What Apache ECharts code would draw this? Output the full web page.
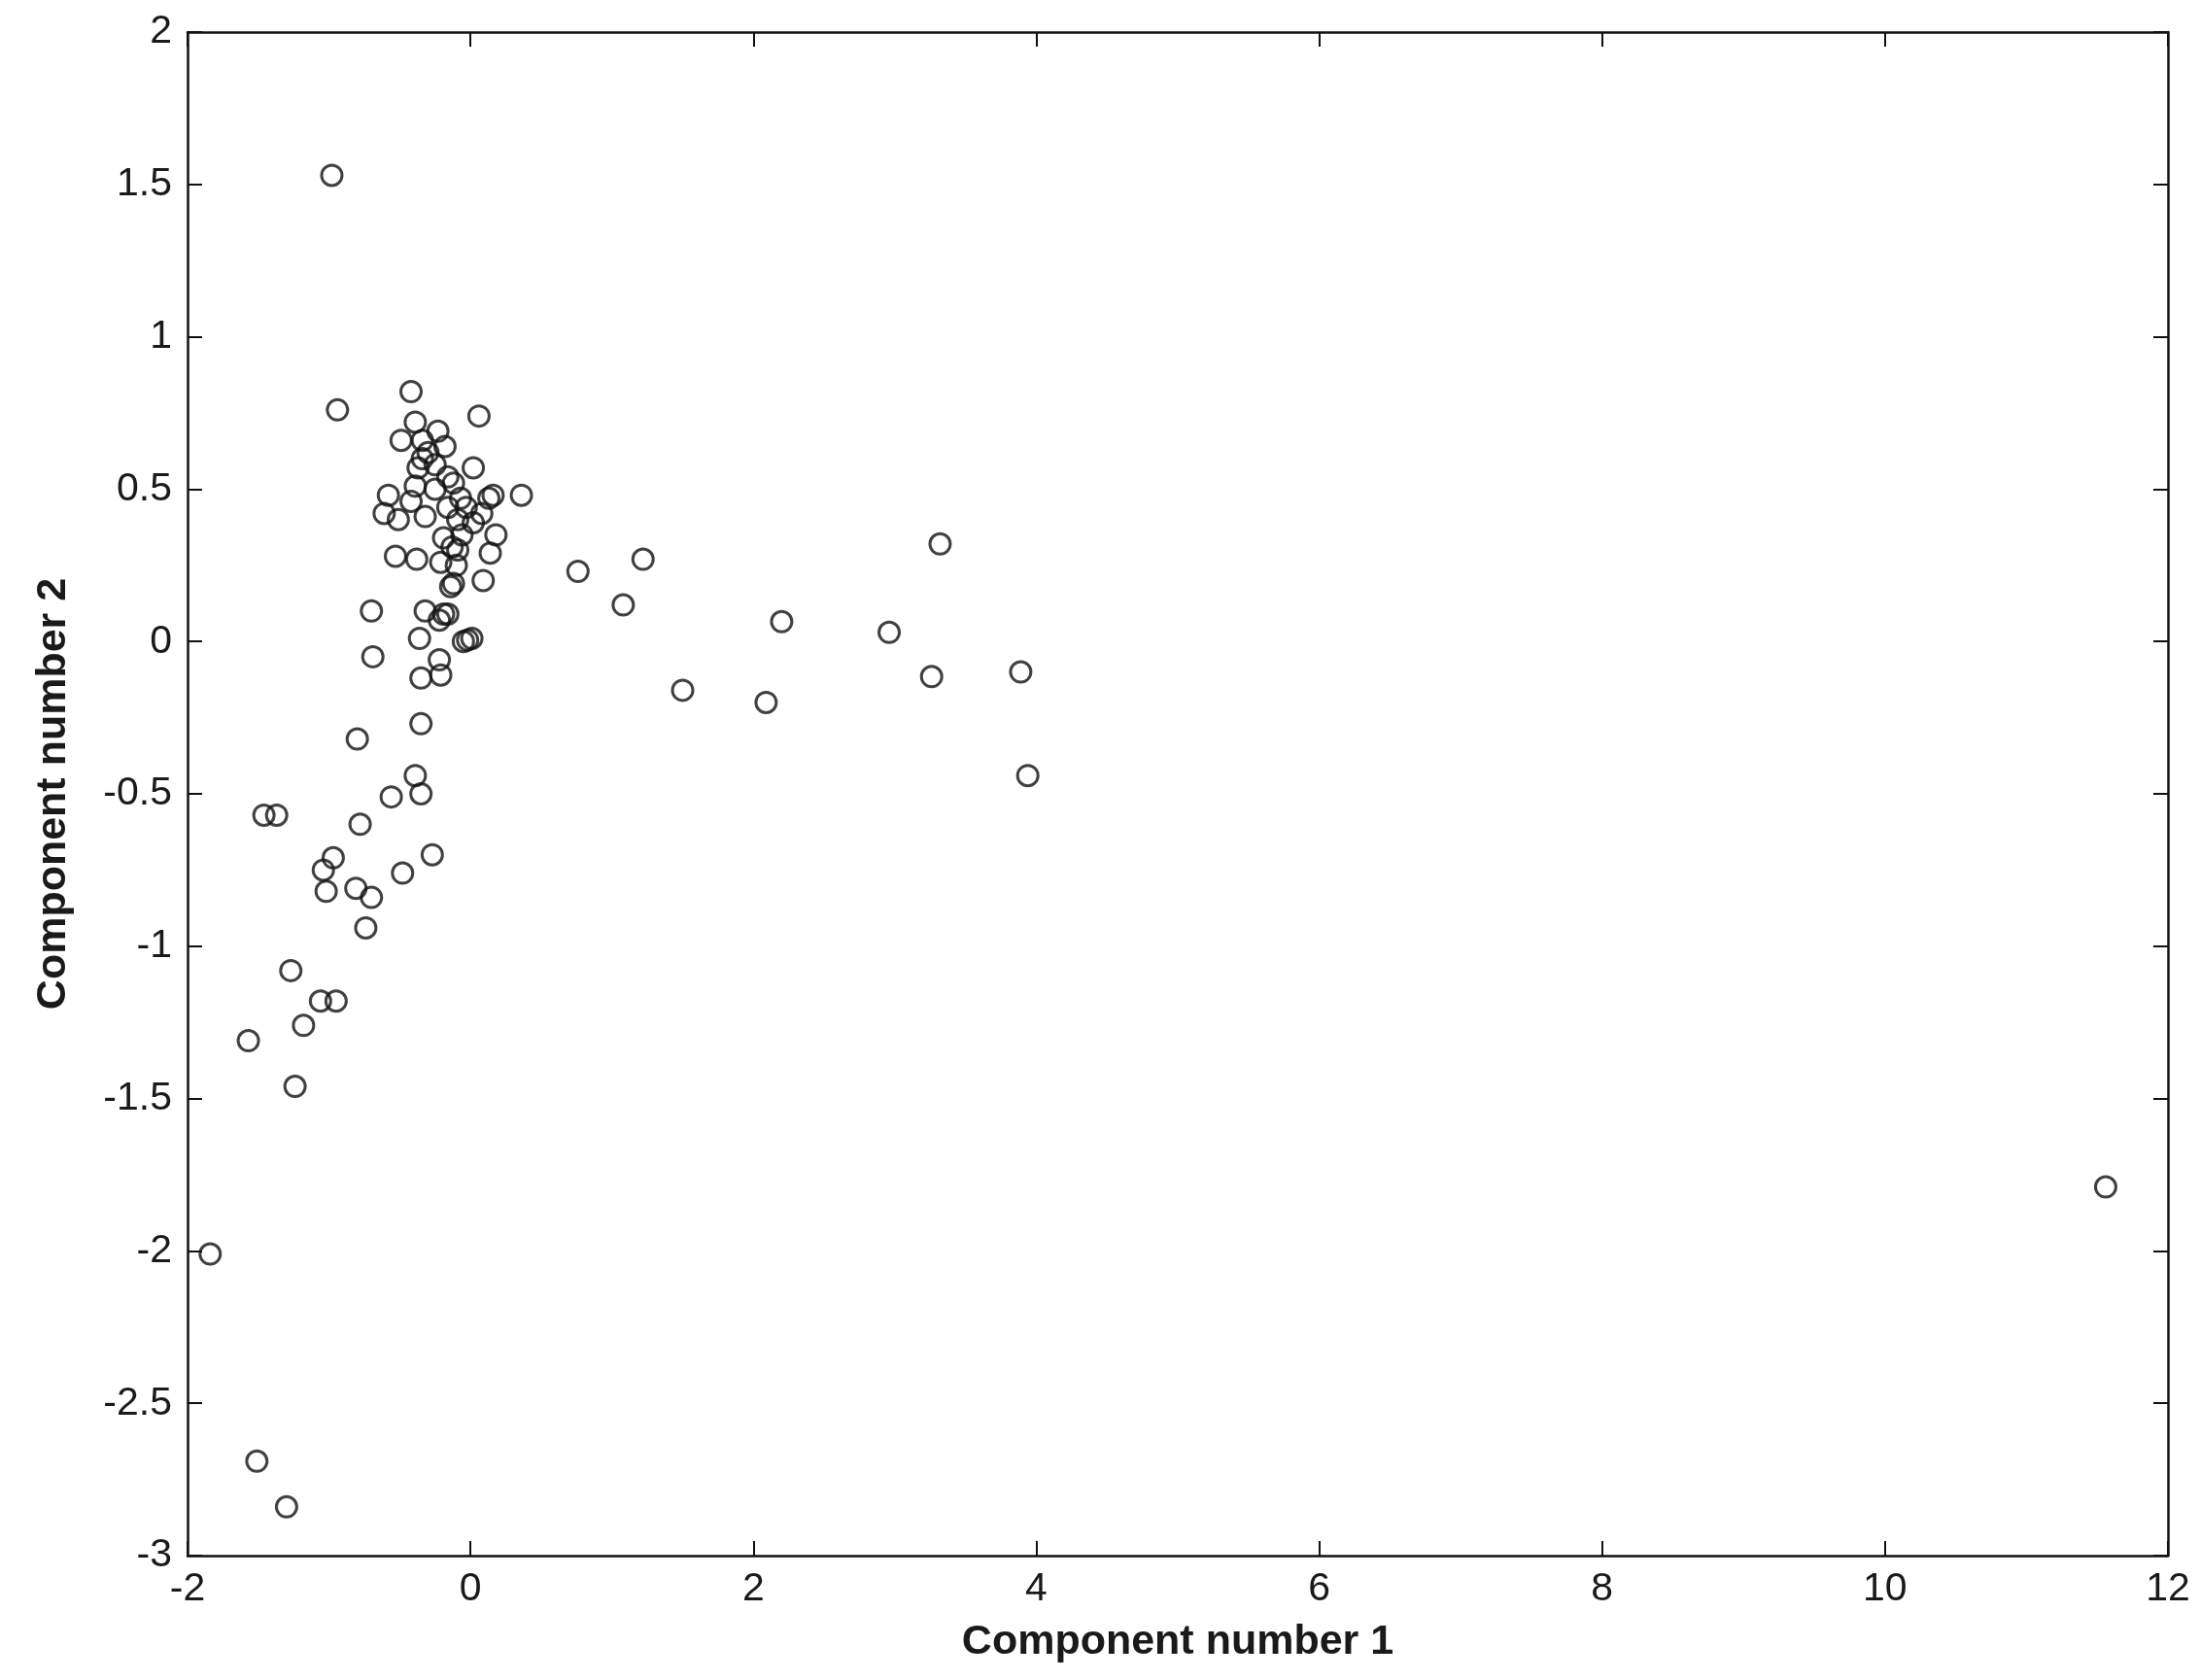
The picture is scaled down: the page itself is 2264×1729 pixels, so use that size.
<!DOCTYPE html>
<html>
<head>
<meta charset="utf-8">
<script src="https://cdn.jsdelivr.net/npm/echarts@6/dist/echarts.min.js"></script>
<style>
html,body{margin:0;padding:0;background:#fff;}
#chart{width:2264px;height:1729px;}
</style>
</head>
<body>
<div id="chart"></div>
<script>
// Component scores (x = component 1, y = component 2)
const comp1 = [
  -0.98, -0.94, -0.42, 0.06, -0.39, -0.23, -0.49, -0.34, -0.18, -0.30,
  -0.34, -0.25, -0.37, 0.02, -0.16, -0.12, -0.39, -0.25, -0.58, -0.42,
  -0.07, 0.16, 0.13, 0.36, -0.61, -0.16, -0.03, -0.32, -0.51, 0.02,
  0.08, -0.09, 0.18, -0.19, -0.06, -0.13, 0.14, -0.09, -0.53, -0.38,
  -0.21, -0.10, 0.09, -0.12, -0.14, -0.70, -0.32, -0.19, -0.22, -0.16,
  -0.36, -0.05, -0.02, 0.01, -0.69, -0.22, -0.35, -0.21, -0.80, -0.35,
  -0.39, -0.35, -0.56, -1.46, -1.37, -0.78, -0.27, -0.97, -1.04, -0.48,
  -1.02, -0.81, -0.70, -0.74, -1.27, -1.06, -0.95, -1.18, -1.57, -1.24,
  -1.84, -1.51, -1.30,
  0.76, 1.08, 1.22, 1.50, 2.09, 2.20, 2.96, 3.26, 3.32, 3.89, 3.94, 11.56
];
const comp2 = [
  1.53, 0.76, 0.82, 0.74, 0.72, 0.69, 0.66, 0.66, 0.64, 0.62,
  0.60, 0.58, 0.57, 0.57, 0.54, 0.52, 0.51, 0.50, 0.48, 0.46,
  0.47, 0.48, 0.47, 0.48, 0.42, 0.44, 0.44, 0.41, 0.40, 0.39,
  0.42, 0.40, 0.35, 0.34, 0.35, 0.31, 0.29, 0.30, 0.28, 0.27,
  0.26, 0.25, 0.20, 0.19, 0.18, 0.10, 0.10, 0.09, 0.07, 0.09,
  0.01, 0.00, 0.005, 0.01, -0.05, -0.06, -0.12, -0.11, -0.32, -0.27,
  -0.44, -0.50, -0.51, -0.57, -0.57, -0.60, -0.70, -0.71, -0.75, -0.76,
  -0.82, -0.81, -0.84, -0.94, -1.08, -1.18, -1.18, -1.26, -1.31, -1.46,
  -2.01, -2.69, -2.84,
  0.23, 0.12, 0.27, -0.16, -0.20, 0.065, 0.03, -0.115, 0.32, -0.10, -0.44, -1.79
];
const xTicks = { min: -2, max: 12, step: 2 };
const yTicks = { min: -3, max: 2, step: 0.5 };
const xTitle = 'Component number 1';
const yTitle = 'Component number 2';

const points = comp1.map((x, i) => [x, comp2[i]]);

const FONT = "'Liberation Sans', Arial, Helvetica, sans-serif";
const INK = '#111';
const lineStyle = { color: INK, width: 2.5 };

function xAx(pos, labels) {
  return {
    type: 'value', position: pos,
    min: xTicks.min, max: xTicks.max, interval: xTicks.step,
    axisLine: { show: true, onZero: false, lineStyle },
    axisTick: { show: true, inside: true, length: 15, lineStyle: { color: INK, width: 2 } },
    axisLabel: { show: labels, color: '#1a1a1a', fontFamily: FONT, fontSize: 41, margin: 14 },
    splitLine: { show: false },
    name: labels ? xTitle : '', nameLocation: 'middle', nameGap: 68,
    nameTextStyle: { color: '#1a1a1a', fontFamily: FONT, fontSize: 43, fontWeight: 'bold' }
  };
}
function yAx(pos, labels) {
  return {
    type: 'value', position: pos,
    min: yTicks.min, max: yTicks.max, interval: yTicks.step,
    axisLine: { show: true, onZero: false, lineStyle },
    axisTick: { show: true, inside: true, length: 15, lineStyle: { color: INK, width: 2 } },
    axisLabel: { show: labels, color: '#1a1a1a', fontFamily: FONT, fontSize: 41, margin: 16 },
    splitLine: { show: false },
    name: labels ? yTitle : '', nameLocation: 'middle', nameGap: 116, nameRotate: 90,
    nameTextStyle: { color: '#1a1a1a', fontFamily: FONT, fontSize: 43, fontWeight: 'bold' }
  };
}

const chart = echarts.init(document.getElementById('chart'), null, { renderer: 'canvas' });
chart.setOption({
  animation: false,
  backgroundColor: '#ffffff',
  grid: { left: 193, right: 33, top: 33, bottom: 128, containLabel: false },
  xAxis: [xAx('bottom', true), xAx('top', false)],
  yAxis: [yAx('left', true), yAx('right', false)],
  series: [{
    type: 'scatter',
    xAxisIndex: 0, yAxisIndex: 0,
    data: points,
    symbol: 'circle',
    symbolSize: 21,
    itemStyle: { color: 'rgba(255,255,255,0)', borderColor: INK, borderWidth: 3 },
    emphasis: { disabled: true }
  }]
});
</script>
</body>
</html>
